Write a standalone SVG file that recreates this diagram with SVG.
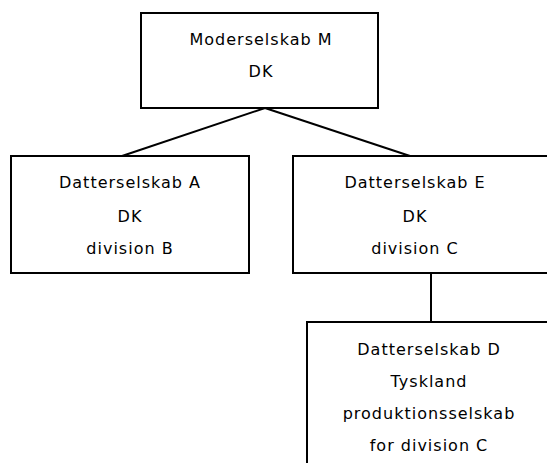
<svg xmlns="http://www.w3.org/2000/svg" width="547" height="463" viewBox="0 0 547 463">
<style>
.box{fill:#fff;stroke:#000;stroke-width:2}
.t{font-family:"DejaVu Sans",Verdana,sans-serif;font-size:16px;letter-spacing:1px;text-anchor:middle;fill:#000}
.c{stroke:#000;stroke-width:2;fill:none}
</style>
<rect width="547" height="463" fill="#fff"/>
<g id="connectors">
<line class="c" x1="265" y1="108" x2="122" y2="156"/>
<line class="c" x1="265" y1="108" x2="410" y2="156"/>
<line class="c" x1="431" y1="273" x2="431" y2="322"/>
</g>
<g id="moderselskab-m">
<rect class="box" x="141" y="13" width="237" height="95"/>
<text class="t" x="261" y="45">Moderselskab M</text>
<text class="t" x="261" y="77">DK</text>
</g>
<g id="datterselskab-a">
<rect class="box" x="11" y="156" width="238" height="117"/>
<text class="t" x="130" y="188">Datterselskab A</text>
<text class="t" x="130" y="222">DK</text>
<text class="t" x="130" y="254">division B</text>
</g>
<g id="datterselskab-e">
<rect class="box" x="293" y="156" width="260" height="117"/>
<text class="t" x="415" y="188">Datterselskab E</text>
<text class="t" x="415" y="222">DK</text>
<text class="t" x="415" y="254">division C</text>
</g>
<g id="datterselskab-d">
<rect class="box" x="307" y="322" width="250" height="150"/>
<text class="t" x="429" y="355">Datterselskab D</text>
<text class="t" x="429" y="387">Tyskland</text>
<text class="t" x="429" y="419">produktionsselskab</text>
<text class="t" x="429" y="451">for division C</text>
</g>
</svg>
